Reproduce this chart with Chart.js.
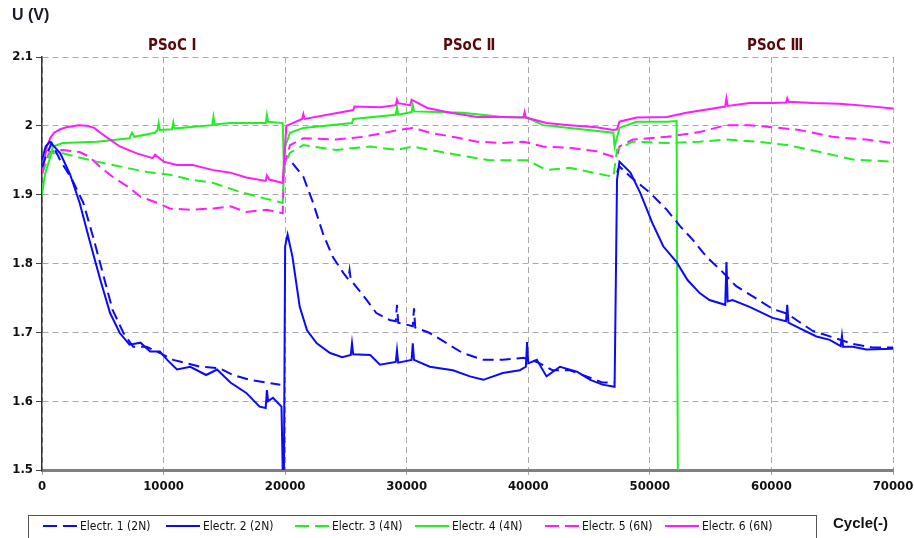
<!DOCTYPE html>
<html><head><meta charset="utf-8">
<script src="https://cdn.jsdelivr.net/npm/chart.js@4/dist/chart.umd.min.js"></script>
<style>
html,body{margin:0;padding:0;background:#fff;}
#wrap{position:relative;width:914px;height:538px;overflow:hidden;font-family:'DejaVu Sans Condensed','Liberation Sans Narrow','Arial Narrow','Liberation Sans',Arial,sans-serif;}
canvas{position:absolute;left:0;top:0;}
.lbl{position:absolute;white-space:nowrap;font-weight:bold;}
#legend{position:absolute;left:28px;top:515px;width:789px;height:30px;border:1px solid #555;box-sizing:border-box;}
.li{position:absolute;top:3px;font-size:12px;color:#111;display:flex;align-items:center;white-space:nowrap;}
.li svg{margin-right:3px;}
</style></head>
<body><div id="wrap">
<canvas id="c" width="914" height="538"></canvas>
<div class="lbl" style="left:12px;top:6px;font-size:16px;color:#1a1a2a;font-family:'Liberation Sans',Arial,sans-serif;">U (V)</div>
<div class="lbl psoc" style="left:148px;top:36px;">PSoC Ⅰ</div>
<div class="lbl psoc" style="left:443px;top:36px;">PSoC Ⅱ</div>
<div class="lbl psoc" style="left:747px;top:36px;">PSoC Ⅲ</div>
<div id="legend"></div>
<div class="lbl" style="left:833px;top:514px;font-size:15px;color:#111;font-family:'Liberation Sans',Arial,sans-serif;">Cycle(-)</div>
</div>
<script>
// ---- data ----
const xTicks = [0,10000,20000,30000,40000,50000,60000,70000];
const xTickLabels = ['0','10000','20000','30000','40000','50000','60000','70000'];
const yTicks = [1.5,1.6,1.7,1.8,1.9,2.0,2.1];
const yTickLabels = ['1.5','1.6','1.7','1.8','1.9','2','2.1'];
const seriesNames = ['Electr. 1 (2N)','Electr. 2 (2N)','Electr. 3 (4N)','Electr. 4 (4N)','Electr. 5 (6N)','Electr. 6 (6N)'];
const phaseLabels = ['PSoC Ⅰ','PSoC Ⅱ','PSoC Ⅲ'];

const e1Cycle = [0,300,800,1500,2500,3400,4200,5000,5800,6700,7500,8600,9700,10800,11900,13000,14600,15700,17100,18500,19600,20000,20600,21500,22300,23100,23900,24800,25200,25300,25400,25900,26700,27500,28600,29100,29200,29300,30500,30600,30700,31900,33300,34600,36300,37900,39600,40700,42000,43400,44800,46100,47100,47200,47300,47500,48400,50000,51400,52500,53500,54700,55800,57100,58500,60100,61300,62300,63400,65000,66700,68300,70000];
const e1Volt  = [1.94,1.955,1.975,1.95,1.921,1.888,1.839,1.786,1.733,1.699,1.679,1.679,1.67,1.66,1.655,1.65,1.648,1.638,1.631,1.627,1.624,null,1.946,1.926,1.888,1.844,1.81,1.786,1.777,1.79,1.776,1.765,1.747,1.728,1.718,1.716,1.74,1.714,1.709,1.735,1.707,1.699,1.684,1.67,1.66,1.66,1.663,1.657,1.645,1.645,1.636,1.627,1.627,null,1.932,1.941,1.926,1.903,1.878,1.854,1.835,1.809,1.791,1.767,1.752,1.734,1.727,1.715,1.702,1.693,1.683,1.678,1.678];

const e2Cycle = [0,300,650,1500,2300,3100,3900,4800,5600,6400,7200,8100,8900,9700,10300,11100,12200,13500,14400,15500,16800,17900,18400,18500,18600,19000,19700,19800,19900,20000,20200,20600,21200,21800,22600,23700,24700,25400,25500,25600,27000,27800,29100,29200,29300,30400,30500,30600,31900,33800,35200,36300,37900,39300,39800,39900,40000,40700,41500,42600,44000,45100,46100,47100,47300,47500,48400,49200,50200,51100,52200,53100,54100,54900,56200,56300,56400,56800,58200,60100,61200,61300,61400,62300,63700,64800,65700,65800,65900,66700,67800,70000];
const e2Volt  = [1.95,1.97,1.977,1.96,1.93,1.888,1.834,1.776,1.728,1.699,1.682,1.685,1.672,1.672,1.66,1.646,1.65,1.638,1.646,1.627,1.612,1.592,1.59,1.616,1.6,1.605,1.592,1.5,1.5,1.825,1.842,1.81,1.737,1.703,1.684,1.67,1.664,1.667,1.684,1.668,1.667,1.653,1.657,1.674,1.656,1.66,1.684,1.66,1.65,1.645,1.636,1.631,1.641,1.645,1.65,1.686,1.655,1.66,1.636,1.65,1.643,1.631,1.624,1.621,1.922,1.948,1.932,1.903,1.859,1.825,1.802,1.776,1.757,1.747,1.74,1.802,1.745,1.747,1.737,1.721,1.716,1.74,1.714,1.706,1.694,1.689,1.68,1.695,1.679,1.679,1.675,1.676];

const e3Cycle = [0,650,1700,4500,6700,8600,10500,12200,14100,16300,18200,19800,19900,20400,21500,24200,27000,29200,30500,31900,34100,36800,39900,41500,43400,47000,47300,48600,51400,54100,56300,58800,61300,64000,66700,70000];
const e3Volt  = [1.93,1.96,1.96,1.948,1.94,1.933,1.929,1.922,1.917,1.904,1.895,1.888,1.94,1.961,1.972,1.965,1.97,1.965,1.97,1.965,1.958,1.95,1.95,1.936,1.939,1.926,1.965,1.977,1.975,1.977,1.98,1.977,1.972,1.962,1.951,1.948];

const e4Cycle = [0,250,650,900,1700,4500,7200,7400,7600,9300,9500,9600,9700,10700,10800,10900,12700,14000,14100,14200,15500,18400,18500,18600,19800,19900,20000,20400,21500,25500,25600,29100,29200,29300,30400,30500,30600,32500,34600,37900,39900,41200,43400,47000,47100,47500,48900,51400,52200,52300];
const e4Volt  = [1.90,1.93,1.953,1.97,1.975,1.977,1.982,1.99,1.984,1.99,1.994,2.004,1.994,1.995,2.005,1.996,1.999,2.001,2.013,2.002,2.004,2.004,2.016,2.006,2.004,1.936,1.97,1.99,1.997,2.004,2.01,2.016,2.027,2.016,2.02,2.03,2.021,2.02,2.019,2.013,2.012,2.001,1.997,1.99,1.97,1.997,2.006,2.006,2.007,1.5];

const e5Cycle = [0,330,650,1700,3100,3900,4800,5800,7200,8100,9500,10500,12200,14100,15500,16800,18500,19800,19900,20400,21500,24200,26400,29400,30500,31900,34100,35800,37900,39600,41200,43400,45600,47000,47300,47500,48600,51400,54100,56300,58200,60100,62300,65000,67800,70000];
const e5Volt  = [1.93,1.95,1.962,1.965,1.962,1.955,1.94,1.926,1.91,1.897,1.888,1.88,1.878,1.88,1.883,1.875,1.878,1.873,1.94,1.972,1.982,1.98,1.984,1.994,1.997,1.99,1.983,1.977,1.975,1.977,1.97,1.968,1.963,1.955,1.955,1.97,1.98,1.984,1.991,2.001,2.001,1.998,1.994,1.984,1.98,1.975];

const e6Cycle = [0,400,700,1000,1500,2000,3000,3700,4300,4800,5600,6400,7800,9100,9300,10000,11100,12400,14000,15500,16800,18400,18500,18700,19800,19900,20100,21400,21500,21600,25600,25700,27800,29100,29200,29300,30300,30400,31700,33600,35800,37900,39600,39700,39800,41500,43400,45600,47000,47300,47500,48900,51400,53000,56200,56300,56400,58200,60100,61200,61300,61400,63400,65600,67800,70000];
const e6Volt  = [1.93,1.97,1.983,1.99,1.995,1.998,2.001,2.0,1.997,1.99,1.98,1.97,1.96,1.953,1.958,1.948,1.943,1.943,1.936,1.932,1.925,1.92,1.928,1.922,1.917,1.946,2.0,2.01,2.017,2.01,2.023,2.028,2.027,2.03,2.038,2.033,2.03,2.038,2.026,2.019,2.013,2.013,2.012,2.02,2.012,2.004,2.001,1.998,1.994,1.995,2.006,2.012,2.013,2.019,2.028,2.04,2.029,2.033,2.033,2.034,2.04,2.035,2.033,2.032,2.029,2.025];

// ---- styling ----
const BLUE='#0a0aff', GREEN='#22ee22', MAG='#ff1aff';
const DASH=[11,6];
const styles = [
  {c:BLUE,d:DASH},{c:BLUE,d:[]},{c:GREEN,d:DASH},{c:GREEN,d:[]},{c:MAG,d:DASH},{c:MAG,d:[]}
];
const cycles=[e1Cycle,e2Cycle,e3Cycle,e4Cycle,e5Cycle,e6Cycle];
const volts=[e1Volt,e2Volt,e3Volt,e4Volt,e5Volt,e6Volt];

const datasets = seriesNames.map((n,i)=>({
  label:n,
  data:cycles[i].map((x,k)=>({x:x,y:volts[i][k]})),
  borderColor:styles[i].c,
  borderDash:styles[i].d,
  borderWidth:2,
  pointRadius:0,
  tension:0,
  fill:false,
  spanGaps:false,
  order:[1,0,4,3,5,2][i]
}));

const FONT="'DejaVu Sans Condensed','Liberation Sans Narrow','Arial Narrow','Liberation Sans',Arial,sans-serif";
document.querySelectorAll('.psoc').forEach(el=>{el.style.fontSize='15px';el.style.color='#5a0808';});

new Chart(document.getElementById('c'),{
  type:'line',
  data:{datasets},
  options:{
    responsive:false,animation:false,
    layout:{padding:{top:57,right:21,left:0,bottom:0}},
    plugins:{legend:{display:false},tooltip:{enabled:false}},
    scales:{
      x:{type:'linear',min:0,max:70000,
        afterBuildTicks:s=>{s.ticks=xTicks.map(v=>({value:v}));},
        afterFit:s=>{s.height=68;s.paddingRight=0;s.paddingLeft=0;},
        ticks:{callback:(v)=>xTickLabels[xTicks.indexOf(v)],color:'#111',font:{family:FONT,size:13,weight:'bold'},padding:4,maxRotation:0},
        grid:{color:'#a8a8a8',lineWidth:1,tickLength:5,tickColor:'#a8a8a8'},
        border:{display:true,color:'#808080',width:3,dash:[6,4]}
      },
      y:{type:'linear',min:1.5,max:2.1,
        afterBuildTicks:s=>{s.ticks=yTicks.map(v=>({value:v}));},
        afterFit:s=>{s.width=42;s.paddingTop=0;s.paddingBottom=0;},
        ticks:{callback:(v)=>yTickLabels[yTicks.findIndex(t=>Math.abs(t-v)<1e-6)],color:'#111',font:{family:FONT,size:13,weight:'bold'},padding:3},
        grid:{color:'#a8a8a8',lineWidth:1,tickLength:6,tickColor:'#444'},
        border:{display:true,color:'#333',width:1.5,dash:[6,4]}
      }
    }
  }
});

// legend
const leg=document.getElementById('legend');
const legX=[14,137,266,386,516,636];
seriesNames.forEach((n,i)=>{
  const d=document.createElement('div');d.className='li';d.style.left=legX[i]+'px';
  const dash=styles[i].d.length?'stroke-dasharray="14 6"':'';
  d.innerHTML=`<svg width="34" height="6"><line x1="0" y1="3" x2="34" y2="3" stroke="${styles[i].c}" stroke-width="2" ${dash}/></svg><span>${n}</span>`;
  leg.appendChild(d);
});
</script>
</body></html>
